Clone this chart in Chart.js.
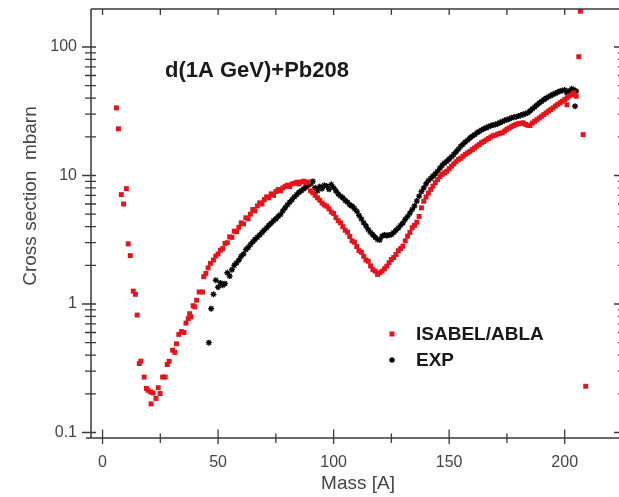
<!DOCTYPE html>
<html>
<head>
<meta charset="utf-8">
<script src="https://cdn.jsdelivr.net/npm/chart.js@4.4.1/dist/chart.umd.min.js"></script>
<style>
  html, body { margin: 0; padding: 0; background: #fff; overflow: hidden; }
  #wrap { width: 619px; height: 497px; overflow: hidden; position: relative; }
  canvas { display: block; }
</style>
</head>
<body>
<div id="wrap"><canvas id="c" width="640" height="497"></canvas></div>
<script>
// ---- data ----
const xTickValues = [0, 25, 50, 75, 100, 125, 150, 175, 200];
const xTickLabels = ['0', '', '50', '', '100', '', '150', '', '200'];
const yTickValues = [0.1, 1, 10, 100];
const yTickLabels = ['0.1', '1', '10', '100'];

const massIsabel = [
  6.0, 6.9, 8.1, 9.1, 10.3, 11.1, 12.0, 13.3, 14.2, 15.0,
  15.9, 16.6, 18.0, 19.0, 19.7, 20.8, 21.0, 21.9, 23.1, 24.1,
  24.9, 26.0, 27.1, 28.0, 28.8, 30.3, 31.3, 32.0, 33.0, 34.2,
  35.2, 36.1, 37.1, 37.7, 38.2, 39.2, 39.9, 40.7, 41.8, 43.3,
  43.8, 44.7, 45.7, 46.7,
  48, 49, 50, 51, 52, 53, 54, 55, 56, 57, 58, 59, 60,
  61, 62, 63, 64, 65, 66, 67, 68, 69, 70,
  71, 72, 73, 74, 75, 76, 77, 78, 79, 80,
  81, 82, 83, 84, 85, 86, 87, 88, 89, 90,
  91, 92, 93, 94, 95, 96, 97, 98, 99, 100,
  101, 102, 103, 104, 105, 106, 107, 108, 109, 110,
  111, 112, 113, 114, 115, 116, 117, 118, 119, 120,
  121, 122, 123, 124, 125, 126, 127, 128, 129, 130,
  131, 132, 133, 134, 135, 136, 137, 138, 139, 140,
  141, 142, 143, 144, 145, 146, 147, 148, 149, 150,
  151, 152, 153, 154, 155, 156, 157, 158, 159, 160,
  161, 162, 163, 164, 165, 166, 167, 168, 169, 170,
  171, 172, 173, 174, 175, 176, 177, 178, 179, 180,
  181, 182, 183, 184, 185, 186, 187, 188, 189, 190,
  191, 192, 193, 194, 195, 196, 197, 198, 199, 200,
  201, 201, 202, 203, 204, 205,
  206.1, 206.8, 208.0, 209.1
];
const sigmaIsabel = [
  33.6, 23.1, 7.1, 6.0, 7.9, 2.94, 2.38, 1.26, 1.19, 0.82,
  0.344, 0.359, 0.27, 0.22, 0.213, 0.207, 0.167, 0.203, 0.184, 0.223,
  0.201, 0.27, 0.27, 0.338, 0.358, 0.437, 0.42, 0.49, 0.58, 0.61,
  0.60, 0.71, 0.77, 0.84, 0.795, 0.97, 0.95, 1.07, 1.24, 1.24,
  1.63, 1.73, 1.91, 2.07,
  2.2, 2.36, 2.45, 2.62, 2.7, 2.96, 3.0, 3.33, 3.3, 3.69, 3.65, 3.95, 4.28,
  4.2, 4.69, 4.6, 5.0, 5.44, 5.3, 5.8, 6.13, 6.0, 6.5,
  6.82, 6.7, 7.2, 7.0, 7.5, 7.78, 7.6, 8.0, 8.2, 8.41,
  8.2, 8.6, 8.7, 8.87, 8.6, 8.9, 9.03, 8.8, 8.9, 7.6,
  7.33, 7.0, 6.7, 6.42, 6.1, 5.9, 5.77, 5.5, 5.2, 5.06,
  4.7, 4.45, 4.28, 4.0, 3.75, 3.62, 3.35, 3.1, 3.03, 2.8,
  2.6, 2.53, 2.35, 2.2, 2.15, 1.98, 1.85, 1.8, 1.70, 1.75,
  1.80, 1.88, 1.97, 2.1, 2.22, 2.3, 2.43, 2.6, 2.7, 2.82,
  3.1, 3.37, 3.6, 3.92, 4.1, 4.33, 4.8, 5.6, 6.3, 6.8,
  7.3, 7.8, 8.26, 8.8, 9.3, 9.8, 10.2, 10.5, 10.8, 11.3,
  11.8, 12.3, 12.8, 13.3, 13.6, 14.1, 14.6, 15.0, 15.4, 15.9,
  16.4, 16.9, 17.4, 18.0, 18.4, 18.9, 19.4, 19.9, 20.4, 20.6,
  21.0, 21.3, 21.5, 22.2, 22.9, 23.4, 24.0, 24.5, 25.0, 25.3,
  25.5, 25.7, 25.0, 24.6, 24.5, 25.6, 26.4, 27.2, 28.0, 28.9,
  29.8, 30.7, 31.7, 32.6, 33.6, 34.7, 35.8, 36.8, 37.8, 39.0,
  40.2, 35.5, 41.5, 42.5, 44.0, 41.4,
  84, 190, 20.8, 0.229
];

const massExp = [
  46, 47, 48, 49, 50, 51, 52, 53, 54, 55, 56, 57, 58, 59, 60,
  61, 62, 63, 64, 65, 66, 67, 68, 69, 70,
  71, 72, 73, 74, 75, 76, 77, 78, 79, 80,
  81, 82, 83, 84, 85, 86, 87, 88, 89, 90,
  91, 92, 93, 94, 95, 96, 97, 98, 99, 100,
  101, 102, 103, 104, 105, 106, 107, 108, 109, 110,
  111, 112, 113, 114, 115, 116, 117, 118, 119, 120,
  121, 122, 123, 124, 125, 126, 127, 128, 129, 130,
  131, 132, 133, 134, 135, 136, 137, 138, 139, 140,
  141, 142, 143, 144, 145, 146, 147, 148, 149, 150,
  151, 152, 153, 154, 155, 156, 157, 158, 159, 160,
  161, 162, 163, 164, 165, 166, 167, 168, 169, 170,
  171, 172, 173, 174, 175, 176, 177, 178, 179, 180,
  181, 182, 183, 184, 185, 186, 187, 188, 189, 190,
  191, 192, 193, 194, 195, 196, 197, 198, 199, 200,
  201, 202, 203, 204, 204.5, 205
];
const sigmaExp = [
  0.50, 0.92, 1.19, 1.53, 1.35, 1.46, 1.40, 1.44, 1.75, 1.65, 1.85, 2.0, 2.09, 2.2, 2.35,
  2.45, 2.65, 2.75, 2.9, 3.05, 3.18, 3.3, 3.45, 3.6, 3.75,
  3.92, 4.1, 4.25, 4.45, 4.6, 4.8, 4.97, 5.3, 5.6, 5.9,
  6.2, 6.49, 6.8, 7.1, 7.4, 7.6, 7.88, 8.1, 8.4, 8.6,
  9.0, 8.03, 7.6, 8.2, 7.9, 8.4, 8.28, 7.8, 8.5, 8.03,
  7.6, 7.2, 6.9, 6.70, 6.4, 6.2, 5.9, 5.77, 5.55, 5.27,
  4.9, 4.6, 4.28, 4.05, 3.8, 3.6, 3.45, 3.3, 3.18, 3.15,
  3.37, 3.45, 3.4, 3.45, 3.47, 3.6, 3.75, 3.9, 4.1, 4.28,
  4.55, 4.8, 5.1, 5.44, 5.8, 6.32, 6.9, 7.5, 8.0, 8.6,
  9.1, 9.5, 9.88, 10.3, 10.8, 11.4, 12.0, 12.5, 12.9, 13.4,
  14.0, 14.6, 15.3, 16.0, 16.9, 17.5, 18.2, 18.9, 19.6, 20.2,
  20.8, 21.5, 22.0, 22.6, 23.1, 23.5, 24.0, 24.4, 24.7, 24.9,
  25.3, 25.8, 26.3, 26.8, 27.2, 27.6, 28.1, 28.4, 28.7, 29.0,
  29.4, 29.9, 30.3, 30.8, 31.8, 33.0, 34.2, 35.4, 36.6, 37.8,
  39.0, 40.0, 41.0, 41.9, 42.8, 43.6, 44.5, 45.3, 45.8, 46.2,
  44.0, 45.5, 47.3, 46.5, 34.6, 45.3
];

// ---- drawing ----
const FONT = '"Liberation Sans", Arial, sans-serif';

const framePlugin = {
  id: 'frame',
  afterDraw(chart) {
    const { ctx, chartArea: a, scales } = chart;
    const xs = scales.x, ys = scales.y;
    ctx.save();
    ctx.strokeStyle = '#3a3a3a';
    ctx.lineWidth = 1.5;
    ctx.beginPath();
    ctx.moveTo(a.left, a.top); ctx.lineTo(a.left, a.bottom);
    ctx.moveTo(a.left - 5, a.bottom); ctx.lineTo(a.right, a.bottom);
    ctx.moveTo(a.left, a.top); ctx.lineTo(a.right, a.top);
    ctx.moveTo(a.right, a.top); ctx.lineTo(a.right, a.bottom);
    ctx.stroke();

    ctx.lineWidth = 1.3;
    ctx.beginPath();
    xTickValues.forEach((v, i) => {
      const px = xs.getPixelForValue(v);
      const major = xTickLabels[i] !== '';
      ctx.moveTo(px, a.bottom - (major ? 8.5 : 4.5));
      ctx.lineTo(px, a.bottom + (major ? 6 : 5));
      ctx.moveTo(px, a.top);
      ctx.lineTo(px, a.top + 6);
    });
    yTickValues.forEach(d => {
      for (let k = 1; k <= 9; k++) {
        const v = d * k;
        if (v < ys.min || v > ys.max) continue;
        const py = ys.getPixelForValue(v);
        const major = k === 1;
        ctx.moveTo(a.left - (major ? 9 : 6), py);
        ctx.lineTo(a.left + 5, py);
        ctx.moveTo(a.right - (major ? 8 : 4), py);
        ctx.lineTo(a.right, py);
      }
    });
    ctx.stroke();

    // axis titles
    ctx.fillStyle = '#444';
    ctx.font = '19px ' + FONT;
    ctx.textAlign = 'center';
    ctx.textBaseline = 'middle';
    ctx.fillText('Mass [A]', 358, 484);
    ctx.save();
    ctx.translate(31, 196);
    ctx.rotate(-Math.PI / 2);
    ctx.fillText('Cross section  mbarn', 0, 0);
    ctx.restore();

    // plot title
    ctx.fillStyle = '#1a1a1a';
    ctx.font = 'bold 22px ' + FONT;
    ctx.textAlign = 'left';
    ctx.fillText('d(1A GeV)+Pb208', 165, 71);

    // legend
    ctx.font = 'bold 19px ' + FONT;
    ctx.fillText('ISABEL/ABLA', 416, 335);
    ctx.fillText('EXP', 416, 361);
    ctx.fillStyle = '#e3141b';
    ctx.fillRect(389.5, 331.5, 5, 5);
    ctx.strokeStyle = '#000';
    ctx.lineWidth = 1.3;
    ctx.beginPath();
    const sx = 392, sy = 360, r = 3;
    for (let k = 0; k < 4; k++) {
      const ang = k * Math.PI / 4;
      ctx.moveTo(sx - r * Math.cos(ang), sy - r * Math.sin(ang));
      ctx.lineTo(sx + r * Math.cos(ang), sy + r * Math.sin(ang));
    }
    ctx.stroke();
    ctx.restore();
  }
};

new Chart(document.getElementById('c'), {
  type: 'scatter',
  data: {
    datasets: [
      {
        label: 'ISABEL/ABLA',
        data: massIsabel.map((m, i) => ({ x: m, y: sigmaIsabel[i] })),
        pointStyle: 'rect',
        pointRadius: 3.5,
        backgroundColor: '#e3141b',
        borderColor: '#e3141b',
        borderWidth: 0
      },
      {
        label: 'EXP',
        data: massExp.map((m, i) => ({ x: m, y: sigmaExp[i] })),
        pointStyle: 'star',
        pointRadius: 3,
        backgroundColor: '#000',
        borderColor: '#000',
        borderWidth: 1.3
      }
    ]
  },
  options: {
    responsive: false,
    animation: false,
    layout: { padding: { left: 0, right: 18, top: 9, bottom: 0 } },
    plugins: { legend: { display: false }, tooltip: { enabled: false }, title: { display: false } },
    scales: {
      x: {
        type: 'linear',
        min: -5,
        max: 224.8,
        afterBuildTicks: s => { s.ticks = xTickValues.map(v => ({ value: v })); },
        afterFit: s => { s.height = 59; s.paddingLeft = 0; s.paddingRight = 0; s.paddingTop = 0; s.paddingBottom = 0; },
        ticks: {
          autoSkip: false, maxRotation: 0, padding: 15, color: '#444',
          font: { size: 16, family: FONT },
          callback: (v, i) => xTickLabels[i]
        },
        grid: { display: false, drawTicks: false },
        border: { display: false }
      },
      y: {
        type: 'logarithmic',
        min: 0.0906,
        max: 197.6,
        afterBuildTicks: s => { s.ticks = yTickValues.map(v => ({ value: v })); },
        afterFit: s => { s.width = 91; s.paddingTop = 0; s.paddingBottom = 0; s.paddingLeft = 0; s.paddingRight = 0; },
        ticks: {
          autoSkip: false, padding: 14, color: '#444',
          font: { size: 16, family: FONT },
          callback: (v, i) => yTickLabels[i]
        },
        grid: { display: false, drawTicks: false },
        border: { display: false }
      }
    }
  },
  plugins: [framePlugin]
});
</script>
</body>
</html>
